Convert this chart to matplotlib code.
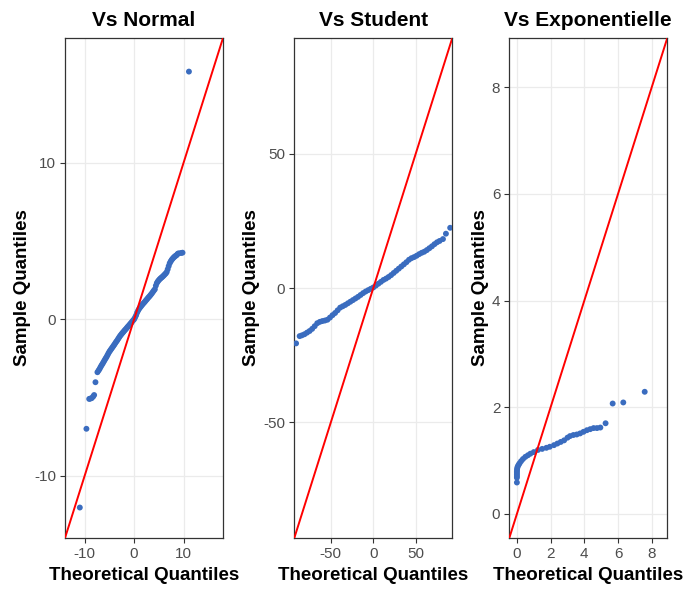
import matplotlib
matplotlib.use("Agg")
import matplotlib.pyplot as plt

plt.rcParams['font.family'] = ['Liberation Sans', 'DejaVu Sans']
plt.rcParams['axes.unicode_minus'] = False

# ---- data ----
# Vs Normal
norm_theo = [-11.0, -9.66, -9.1, -8.9, -8.6, -8.3, -8.1, -7.83, -7.43, -7.2, -7.0, -6.8,
             -6.6, -6.4, -6.2, -6.0, -5.8, -5.6, -5.4, -5.2, -5.0, -4.8, -4.6, -4.4,
             -4.2, -4.0, -3.8, -3.6, -3.4, -3.2, -3.0, -2.8, -2.6, -2.4, -2.2, -2.0,
             -1.8, -1.6, -1.4, -1.2, -1.0, -0.8, -0.6, -0.4, -0.2, 0.0, 0.2, 0.4,
             0.6, 0.8, 1.0, 1.2, 1.4, 1.6, 1.8, 2.0, 2.2, 2.4, 2.6, 2.8,
             3.0, 3.2, 3.4, 3.6, 3.8, 4.0, 4.2, 4.4, 4.6, 4.8, 5.0, 5.2,
             5.4, 5.6, 5.8, 6.0, 6.2, 6.4, 6.6, 6.8, 7.0, 7.2, 7.4, 7.6,
             7.8, 8.0, 8.2, 8.4, 8.6, 8.8, 9.0, 9.5, 9.8, 11.1]
norm_samp = [-12.05, -7.01, -5.1, -5.08, -5.05, -4.95, -4.85, -4.03, -3.39, -3.28, -3.18, -3.06,
             -2.95, -2.85, -2.74, -2.63, -2.52, -2.42, -2.30, -2.18, -2.07, -1.98, -1.89, -1.80,
             -1.71, -1.62, -1.52, -1.43, -1.34, -1.24, -1.14, -1.05, -0.97, -0.89, -0.82, -0.74,
             -0.67, -0.60, -0.52, -0.45, -0.38, -0.30, -0.23, -0.15, -0.07, 0.0, 0.12, 0.25,
             0.42, 0.55, 0.66, 0.75, 0.83, 0.91, 0.99, 1.06, 1.13, 1.21, 1.28, 1.36,
             1.43, 1.50, 1.58, 1.66, 1.75, 1.84, 1.92, 2.15, 2.32, 2.42, 2.50, 2.57,
             2.63, 2.68, 2.74, 2.80, 2.87, 2.93, 3.02, 3.20, 3.40, 3.58, 3.70, 3.80,
             3.88, 3.95, 4.01, 4.06, 4.10, 4.18, 4.22, 4.24, 4.26, 15.85]

# Vs Student
stud_theo = [-90.9, -86.7, -84, -81, -78, -75, -72, -69, -66, -63, -60, -57, -54, -51,
             -48, -45, -42, -39, -36, -33, -30, -27, -24, -21, -18, -15, -12, -9, -6,
             -3, 0, 3, 6, 9, 12, 15, 18, 21, 24, 27, 30, 33, 36, 39, 42, 45, 48, 51,
             54, 57, 60, 63, 66, 69, 72, 75, 78, 82, 85.5, 90.5]
stud_samp = [-20.6, -17.9, -17.6, -17.2, -16.6, -16.0, -15.2, -14.2, -13.1, -12.6, -12.3,
             -12.1, -11.8, -11.0, -10.1, -9.3, -8.3, -7.3, -6.8, -6.3, -5.7, -5.1, -4.5,
             -3.9, -3.3, -2.6, -1.9, -1.3, -0.8, -0.3, 0.2, 0.9, 1.6, 2.3, 3.0, 3.5, 4.1,
             4.8, 5.6, 6.4, 7.2, 8.0, 8.8, 9.6, 10.5, 11.1, 11.5, 12.0, 12.6, 13.1, 13.5,
             14.1, 14.8, 15.5, 16.3, 17.0, 17.5, 18.2, 20.2, 22.4]

# Vs Exponentielle
expo_theo = [0.0, 0.0, 0.0, 0.0, 0.0, 0.0, 0.01, 0.02, 0.05, 0.1, 0.16, 0.25, 0.36, 0.5,
             0.65, 0.8, 1.0, 1.25, 1.5, 1.75, 1.95, 2.2, 2.4, 2.6, 2.8, 3.0, 3.15, 3.35,
             3.55, 3.75, 3.95, 4.15, 4.35, 4.55, 4.75, 4.95, 5.26, 5.68, 6.31, 7.58]
expo_samp = [0.59, 0.68, 0.71, 0.74, 0.77, 0.80, 0.83, 0.86, 0.89, 0.92, 0.95, 0.99, 1.03,
             1.07, 1.10, 1.13, 1.16, 1.20, 1.22, 1.24, 1.26, 1.29, 1.32, 1.35, 1.38, 1.43,
             1.46, 1.48, 1.49, 1.51, 1.54, 1.57, 1.59, 1.61, 1.61, 1.62, 1.70, 2.07, 2.09,
             2.29]

panels = [
    ("Vs Normal", norm_theo, norm_samp, (-14.0, 18.0), [-10, 0, 10]),
    ("Vs Student", stud_theo, stud_samp, (-93.0, 93.0), [-50, 0, 50]),
    ("Vs Exponentielle", expo_theo, expo_samp, (-0.45, 8.92), [0, 2, 4, 6, 8]),
]

fig = plt.figure(figsize=(6.86, 5.9), dpi=100)
lefts = [65 / 686, 294.3 / 686, 509.3 / 686]
width = 158 / 686
bottom = 1 - 538 / 590
height = 500 / 590

for left, (title, x, y, lim, ticks) in zip(lefts, panels):
    ax = fig.add_axes([left, bottom, width, height])
    ax.scatter(x, y, s=18, color='#3A6CBF', edgecolors='none', zorder=3)
    ax.axline((0, 0), slope=1, color='red', linewidth=1.4, zorder=4)
    ax.set_xlim(lim)
    ax.set_ylim(lim)
    ax.set_xticks(ticks)
    ax.set_yticks(ticks)
    ax.grid(True, color='#EBEBEB', linewidth=0.9, zorder=0)
    ax.set_axisbelow(True)
    for sp in ax.spines.values():
        sp.set_color('#333333')
        sp.set_linewidth(0.9)
    ax.tick_params(colors='#333333', labelcolor='#4D4D4D', labelsize=11,
                   length=3.5, width=0.8, pad=3)
    ax.set_title(title, fontsize=15, fontweight='bold', pad=9)
    ax.set_xlabel("Theoretical Quantiles", fontsize=13.5, fontweight='bold', labelpad=4)
    ax.set_ylabel("Sample Quantiles", fontsize=13.5, fontweight='bold', labelpad=2)

fig.savefig("out.png", dpi=100)
